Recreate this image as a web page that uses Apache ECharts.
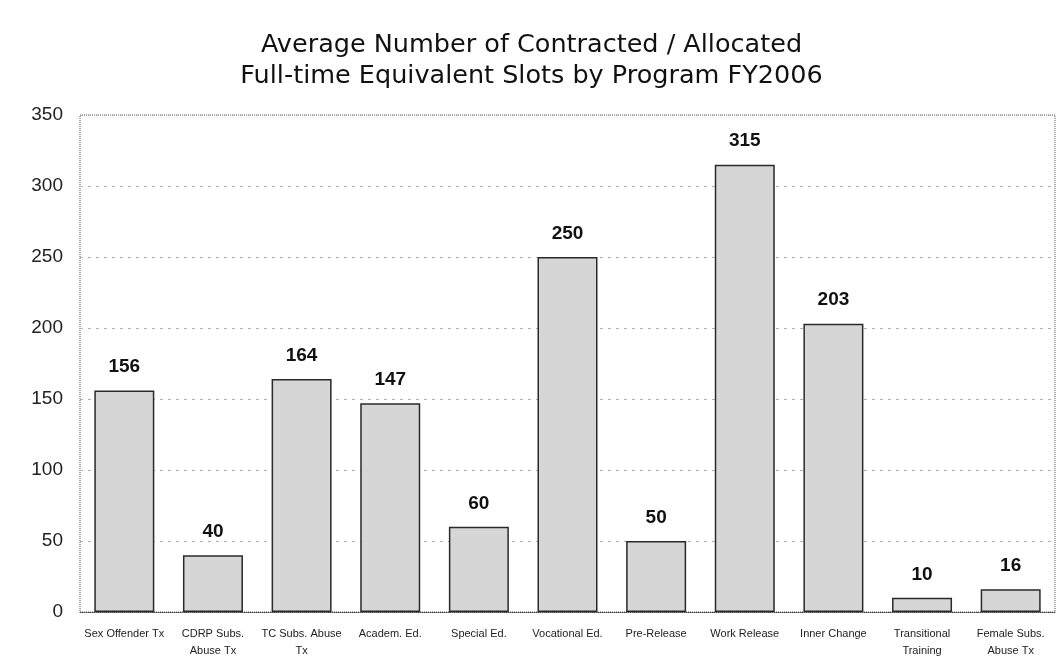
<!DOCTYPE html>
<html>
<head>
<meta charset="utf-8">
<script src="https://cdn.jsdelivr.net/npm/echarts@6/dist/echarts.min.js"></script>
<style>
html,body{margin:0;padding:0;background:#fff;}
#chart{width:1063px;height:670px;}
</style>
</head>
<body>
<div id="chart"></div>
<script>
const titleText = "Average Number of Contracted / Allocated\nFull-time Equivalent Slots by Program FY2006";
const categories = ["Sex Offender Tx", "CDRP Subs.\nAbuse Tx", "TC Subs. Abuse\nTx", "Academ. Ed.", "Special Ed.", "Vocational Ed.", "Pre-Release", "Work Release", "Inner Change", "Transitional\nTraining", "Female Subs.\nAbuse Tx"];
const slots = [156, 40, 164, 147, 60, 250, 50, 315, 203, 10, 16];
const yTicks = { min: 0, max: 350, interval: 50 };

const chart = echarts.init(document.getElementById('chart'));
chart.setOption({
  backgroundColor: '#ffffff',
  animation: false,
  title: {
    text: titleText,
    left: 'center',
    top: 25,
    textStyle: {
      fontFamily: 'DejaVu Sans, Liberation Sans, Arial, sans-serif',
      fontSize: 25.5,
      fontWeight: 'normal',
      color: '#111',
      lineHeight: 31
    }
  },
  grid: {
    left: 80, right: 8, top: 115, bottom: 58,
    show: true,
    borderColor: '#555',
    borderWidth: 1,
    borderType: 'dotted',
    backgroundColor: 'transparent'
  },
  xAxis: {
    type: 'category',
    data: categories,
    axisLine: { show: true, lineStyle: { color: '#444', type: 'dotted' } },
    axisTick: { show: false },
    axisLabel: {
      interval: 0,
      margin: 13,
      fontFamily: 'Liberation Sans Narrow, Liberation Sans, Arial, sans-serif',
      fontSize: 11,
      color: '#222',
      lineHeight: 17
    }
  },
  yAxis: {
    type: 'value',
    min: yTicks.min,
    max: yTicks.max,
    interval: yTicks.interval,
    axisLine: { show: false },
    axisTick: { show: false },
    splitLine: { show: true, lineStyle: { color: '#b0b0b0', type: [3, 5], width: 1 } },
    axisLabel: {
      margin: 17,
      fontFamily: 'Liberation Sans, Arial, sans-serif',
      fontSize: 19,
      color: '#222'
    }
  },
  series: [{
    type: 'bar',
    data: slots,
    barWidth: 60,
    itemStyle: { color: '#d6d6d6', borderColor: '#2a2a2a', borderWidth: 1.5 },
    label: {
      show: true,
      position: 'top',
      distance: 14,
      fontFamily: 'Liberation Sans, Arial, sans-serif',
      fontSize: 19,
      fontWeight: 'bold',
      color: '#111'
    }
  }]
});
</script>
</body>
</html>
